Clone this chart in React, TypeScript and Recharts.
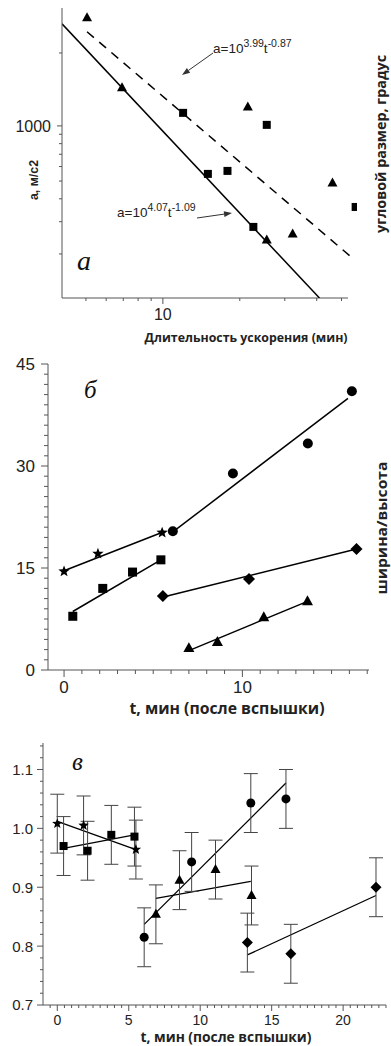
import React from "react";
import { ComposedChart, Scatter, Line, XAxis, YAxis, ErrorBar, ReferenceLine } from "recharts";

// ---- panel a: acceleration vs duration, log-log ----
const TRI_A = [
  { x: 5.05, y: 3890 }, { x: 6.92, y: 1614 }, { x: 21.5, y: 1270 },
  { x: 25.5, y: 238 }, { x: 32.2, y: 257 }, { x: 46.1, y: 488 },
];
const SQ_A = [
  { x: 12.0, y: 1178 }, { x: 15.0, y: 547 }, { x: 17.9, y: 568 },
  { x: 22.6, y: 281 }, { x: 25.5, y: 1013 }, { x: 56.8, y: 361 },
];
const FIT_A_DASH = [{ x: 5.05, y: 3266 }, { x: 54.7, y: 192 }];
const FIT_A_SOLID = [{ x: 4.03, y: 3606 }, { x: 41.0, y: 115 }];
const A_X_TICKS = [5, 6, 7, 8, 9, 10, 20, 30, 40, 50];
const A_X_MAJOR = [10];
const A_Y_TICKS = [200, 300, 400, 500, 600, 700, 800, 900, 1000, 2500];
const A_Y_MAJOR = [1000];

// ---- panel б: width/height vs time ----
const STAR_B = [{ x: 0.0, y: 14.5 }, { x: 1.9, y: 17.1 }, { x: 5.5, y: 20.2 }];
const SQ_B = [{ x: 0.49, y: 7.9 }, { x: 2.17, y: 12.0 }, { x: 3.84, y: 14.4 }, { x: 5.43, y: 16.2 }];
const CIRC_B = [{ x: 6.1, y: 20.4 }, { x: 9.47, y: 28.9 }, { x: 13.67, y: 33.3 }, { x: 16.14, y: 41.0 }];
const DIAM_B = [{ x: 5.54, y: 10.9 }, { x: 10.37, y: 13.4 }, { x: 16.4, y: 17.8 }];
const TRI_B = [{ x: 7.0, y: 3.2 }, { x: 8.6, y: 4.1 }, { x: 11.2, y: 7.75 }, { x: 13.65, y: 10.1 }];
const FIT_STAR_B = [{ x: 0, y: 14.6 }, { x: 5.52, y: 20.25 }];
const FIT_SQ_B = [{ x: 0.49, y: 8.6 }, { x: 5.43, y: 16.2 }];
const FIT_CIRC_B = [{ x: 6.1, y: 20.3 }, { x: 15.92, y: 39.95 }];
const FIT_DIAM_B = [{ x: 5.67, y: 10.8 }, { x: 16.4, y: 17.8 }];
const FIT_TRI_B = [{ x: 7.0, y: 2.85 }, { x: 13.65, y: 10.1 }];
const B_X_MAJOR = [0, 10];
const B_Y_MAJOR = [0, 15, 30, 45];

// ---- panel в: ratio with error bars ----
const STAR_C = [{ x: 0, y: 1.008, e: 0.05 }, { x: 1.84, y: 1.005, e: 0.05 }, { x: 5.5, y: 0.964, e: 0.05 }];
const SQ_C = [
  { x: 0.44, y: 0.97, e: 0.05 }, { x: 2.12, y: 0.962, e: 0.05 },
  { x: 3.78, y: 0.989, e: 0.05 }, { x: 5.4, y: 0.986, e: 0.05 },
];
const CIRC_C = [
  { x: 6.08, y: 0.815, e: 0.05 }, { x: 9.4, y: 0.943, e: 0.05 },
  { x: 13.54, y: 1.043, e: 0.05 }, { x: 16.0, y: 1.05, e: 0.05 },
];
const TRI_C = [
  { x: 6.9, y: 0.854, e: 0.05 }, { x: 8.55, y: 0.912, e: 0.05 },
  { x: 11.07, y: 0.93, e: 0.05 }, { x: 13.59, y: 0.886, e: 0.05 },
];
const DIAM_C = [{ x: 13.3, y: 0.806, e: 0.05 }, { x: 16.34, y: 0.787, e: 0.05 }, { x: 22.3, y: 0.9, e: 0.05 }];
const FIT_STAR_C = [{ x: 0, y: 1.012 }, { x: 5.5, y: 0.964 }];
const FIT_SQ_C = [{ x: 0.44, y: 0.966 }, { x: 5.4, y: 0.989 }];
const FIT_CIRC_C = [{ x: 6.08, y: 0.837 }, { x: 16.0, y: 1.077 }];
const FIT_TRI_C = [{ x: 6.9, y: 0.881 }, { x: 13.54, y: 0.91 }];
const FIT_DIAM_C = [{ x: 13.3, y: 0.785 }, { x: 22.3, y: 0.886 }];
const C_X_MAJOR = [0, 5, 10, 15, 20];
const C_Y_MAJOR = [0.7, 0.8, 0.9, 1.0, 1.1];

// minor tick positions
function steps(from: number, to: number, step: number) {
  const out: number[] = [];
  const n = Math.round((to - from) / step);
  for (let i = 0; i <= n; i++) out.push(Math.round((from + i * step) * 1000) / 1000);
  return out;
}
const B_X_TICKS = steps(0, 17, 1);
const B_Y_TICKS = steps(0, 45, 1.5);
const C_X_TICKS = steps(-0.5, 23, 0.5);
const C_Y_TICKS = steps(0.7, 1.14, 0.02);

const AXIS = "#555";
const NUM_FONT = "'Liberation Sans', Arial, sans-serif";
const LBL_FONT = "'Open Sans', 'Noto Sans', sans-serif";
const SERIF = "'Liberation Serif', 'Times New Roman', serif";

const isMajor = (list: number[], v: number) => list.some((m) => Math.abs(m - v) < 1e-6);

function bottomTick(majors: number[], big: number, small: number, fs: number, dy: number, fmt: (v: number) => string) {
  return (p: any) => {
    const v = p.payload.value;
    const major = isMajor(majors, v);
    return (
      <g>
        <line x1={p.x} x2={p.x} y1={p.y} y2={p.y + (major ? big : small)} stroke={AXIS} />
        {major && (
          <text x={p.x} y={p.y + dy} textAnchor="middle" fontSize={fs} fill="#222" fontFamily={NUM_FONT}>
            {fmt(v)}
          </text>
        )}
      </g>
    );
  };
}

function leftTick(majors: number[], big: number, small: number, fs: number, gap: number, fmt: (v: number) => string) {
  return (p: any) => {
    const v = p.payload.value;
    const major = isMajor(majors, v);
    return (
      <g>
        <line x1={p.x} x2={p.x - (major ? big : small)} y1={p.y} y2={p.y} stroke={AXIS} />
        {major && (
          <text x={p.x - gap} y={p.y} dy="0.36em" textAnchor="end" fontSize={fs} fill="#222" fontFamily={NUM_FONT}>
            {fmt(v)}
          </text>
        )}
      </g>
    );
  };
}

function makeShape(kind: string, s: number) {
  return (p: any) => {
    const { cx, cy } = p;
    if (cx == null || cy == null) return <g />;
    const h = s / 2;
    if (kind === "sq") return <rect x={cx - h} y={cy - h} width={s} height={s} fill="#000" />;
    if (kind === "circ") return <circle cx={cx} cy={cy} r={h} fill="#000" />;
    if (kind === "tri")
      return <polygon points={`${cx},${cy - s * 0.55} ${cx + h},${cy + s * 0.35} ${cx - h},${cy + s * 0.35}`} fill="#000" />;
    if (kind === "diam")
      return <polygon points={`${cx},${cy - h} ${cx + h},${cy} ${cx},${cy + h} ${cx - h},${cy}`} fill="#000" />;
    const pts: string[] = [];
    for (let i = 0; i < 10; i++) {
      const r = i % 2 === 0 ? h : h * 0.42;
      const a = -Math.PI / 2 + (i * Math.PI) / 5;
      pts.push(`${cx + r * Math.cos(a)},${cy + r * Math.sin(a)}`);
    }
    return <polygon points={pts.join(" ")} fill="#000" />;
  };
}

function Arrow({ x1, y1, x2, y2 }: { x1: number; y1: number; x2: number; y2: number }) {
  const len = Math.hypot(x2 - x1, y2 - y1);
  const dx = (x2 - x1) / len;
  const dy = (y2 - y1) / len;
  const bx = x2 - dx * 8;
  const by = y2 - dy * 8;
  return (
    <g>
      <line x1={x1} y1={y1} x2={bx} y2={by} stroke="#333" strokeWidth={1} />
      <polygon points={`${x2},${y2} ${bx - dy * 2.8},${by + dx * 2.8} ${bx + dy * 2.8},${by - dx * 2.8}`} fill="#333" />
    </g>
  );
}

const fitLine = (data: any[], dash?: string, w = 1.5) => (
  <Line
    data={data}
    dataKey="y"
    stroke="#000"
    strokeWidth={w}
    strokeDasharray={dash}
    dot={false}
    activeDot={false}
    isAnimationActive={false}
  />
);

export default function App() {
  return (
    <div style={{ position: "absolute", left: 0, top: 0, width: 391, height: 1046, background: "#fff" }}>
      {/* panel a */}
      <div style={{ position: "absolute", left: 0, top: 0 }}>
        <ComposedChart width={391} height={345} margin={{ top: 8, right: 34, bottom: 0, left: 0 }}>
          <XAxis
            dataKey="x" type="number" scale="log" domain={[4.03, 57.5]} allowDataOverflow
            ticks={A_X_TICKS} interval={0} tickSize={0} tickMargin={0} height={47}
            axisLine={false} tickLine={false}
            tick={bottomTick(A_X_MAJOR, 6, 3, 16, 22, (v) => String(v))}
          />
          <YAxis
            dataKey="y" type="number" scale="log" domain={[115, 4400]} allowDataOverflow
            ticks={A_Y_TICKS} interval={0} tickSize={0} tickMargin={0} width={62}
            axisLine={{ stroke: AXIS }} tickLine={false}
            tick={leftTick(A_Y_MAJOR, 5, 3, 16, 11, (v) => String(v))}
          />
          <ReferenceLine segment={[{ x: 4.03, y: 115 }, { x: 53, y: 115 }]} stroke={AXIS} ifOverflow="visible" />
          {fitLine(FIT_A_SOLID)}
          {fitLine(FIT_A_DASH, "9 7")}
          <Scatter data={TRI_A} shape={makeShape("tri", 10)} isAnimationActive={false} />
          <Scatter data={SQ_A} shape={makeShape("sq", 8)} isAnimationActive={false} />
        </ComposedChart>
      </div>

      {/* panel б */}
      <div style={{ position: "absolute", left: 0, top: 345 }}>
        <ComposedChart width={391} height={375} margin={{ top: 19, right: 22, bottom: 0, left: 0 }}>
          <XAxis
            dataKey="x" type="number" domain={[-0.9, 17.1]} allowDataOverflow
            ticks={B_X_TICKS} interval={0} tickSize={0} tickMargin={0} height={50}
            axisLine={{ stroke: AXIS }} tickLine={false}
            tick={bottomTick(B_X_MAJOR, 7, 4, 17, 23, (v) => String(v))}
          />
          <YAxis
            dataKey="y" type="number" domain={[0, 45]} allowDataOverflow
            ticks={B_Y_TICKS} interval={0} tickSize={0} tickMargin={0} width={48}
            axisLine={{ stroke: AXIS }} tickLine={false}
            tick={leftTick(B_Y_MAJOR, 7, 4, 17, 13, (v) => String(v))}
          />
          {fitLine(FIT_STAR_B)}
          {fitLine(FIT_SQ_B)}
          {fitLine(FIT_CIRC_B)}
          {fitLine(FIT_DIAM_B)}
          {fitLine(FIT_TRI_B)}
          <Scatter data={STAR_B} shape={makeShape("star", 12)} isAnimationActive={false} />
          <Scatter data={SQ_B} shape={makeShape("sq", 9)} isAnimationActive={false} />
          <Scatter data={CIRC_B} shape={makeShape("circ", 10)} isAnimationActive={false} />
          <Scatter data={DIAM_B} shape={makeShape("diam", 12)} isAnimationActive={false} />
          <Scatter data={TRI_B} shape={makeShape("tri", 11)} isAnimationActive={false} />
        </ComposedChart>
      </div>

      {/* panel в */}
      <div style={{ position: "absolute", left: 0, top: 720 }}>
        <ComposedChart width={391} height={326} margin={{ top: 23, right: 5, bottom: 0, left: 0 }}>
          <XAxis
            dataKey="x" type="number" domain={[-1, 23]} allowDataOverflow
            ticks={C_X_TICKS} interval={0} tickSize={0} tickMargin={0} height={41}
            axisLine={{ stroke: AXIS }} tickLine={false}
            tick={bottomTick(C_X_MAJOR, 6, 3, 14, 20, (v) => String(v))}
          />
          <YAxis
            dataKey="y" type="number" domain={[0.7, 1.145]} allowDataOverflow
            ticks={C_Y_TICKS} interval={0} tickSize={0} tickMargin={0} width={43}
            axisLine={{ stroke: AXIS }} tickLine={false}
            tick={leftTick(C_Y_MAJOR, 6, 3, 15, 10, (v) => v.toFixed(1))}
          />
          {fitLine(FIT_STAR_C, undefined, 1.3)}
          {fitLine(FIT_SQ_C, undefined, 1.3)}
          {fitLine(FIT_CIRC_C, undefined, 1.3)}
          {fitLine(FIT_TRI_C, undefined, 1.3)}
          {fitLine(FIT_DIAM_C, undefined, 1.3)}
          <Scatter data={STAR_C} shape={makeShape("star", 11)} isAnimationActive={false}>
            <ErrorBar dataKey="e" direction="y" width={7} stroke="#444" strokeWidth={1} />
          </Scatter>
          <Scatter data={SQ_C} shape={makeShape("sq", 8)} isAnimationActive={false}>
            <ErrorBar dataKey="e" direction="y" width={7} stroke="#444" strokeWidth={1} />
          </Scatter>
          <Scatter data={CIRC_C} shape={makeShape("circ", 9)} isAnimationActive={false}>
            <ErrorBar dataKey="e" direction="y" width={7} stroke="#444" strokeWidth={1} />
          </Scatter>
          <Scatter data={TRI_C} shape={makeShape("tri", 10)} isAnimationActive={false}>
            <ErrorBar dataKey="e" direction="y" width={7} stroke="#444" strokeWidth={1} />
          </Scatter>
          <Scatter data={DIAM_C} shape={makeShape("diam", 11)} isAnimationActive={false}>
            <ErrorBar dataKey="e" direction="y" width={7} stroke="#444" strokeWidth={1} />
          </Scatter>
        </ComposedChart>
      </div>

      {/* titles and annotations */}
      <svg width={391} height={1046} style={{ position: "absolute", left: 0, top: 0, pointerEvents: "none" }}>
        <text x={77} y={270} fontSize={28} fontStyle="italic" fontFamily={SERIF} fill="#111">a</text>
        <text x={84} y={398} fontSize={25} fontStyle="italic" fontFamily={SERIF} fill="#111">б</text>
        <text x={72} y={770} fontSize={25} fontStyle="italic" fontFamily={SERIF} fill="#111">в</text>

        <text x={213} y={53} fontSize={13.5} fontFamily={NUM_FONT} fill="#222">
          a=10<tspan dy={-6} fontSize={10.5}>3.99</tspan>
          <tspan dy={6} fontSize={13.5}>t</tspan>
          <tspan dy={-6} fontSize={10.5}>-0.87</tspan>
        </text>
        <text x={117} y={217} fontSize={13.5} fontFamily={NUM_FONT} fill="#222">
          a=10<tspan dy={-6} fontSize={10.5}>4.07</tspan>
          <tspan dy={6} fontSize={13.5}>t</tspan>
          <tspan dy={-6} fontSize={10.5}>-1.09</tspan>
        </text>
        <Arrow x1={213} y1={53} x2={182} y2={75} />
        <Arrow x1={197} y1={218} x2={232} y2={213} />

        <text transform="translate(38,180) rotate(-90)" textAnchor="middle" fontSize={12} fontWeight="bold"
          fontFamily={NUM_FONT} fill="#222" textLength={40} lengthAdjust="spacingAndGlyphs">a, м/c2</text>
        <text x={246} y={342} textAnchor="middle" fontSize={13} fontWeight="bold" fontFamily={LBL_FONT}
          fill="#222" textLength={203} lengthAdjust="spacingAndGlyphs">Длительность ускорения (мин)</text>
        <text transform="translate(386,144) rotate(-90)" textAnchor="middle" fontSize={14} fontWeight="bold"
          fontFamily={LBL_FONT} fill="#222" textLength={178} lengthAdjust="spacingAndGlyphs">угловой размер, градус</text>

        <text transform="translate(387,528) rotate(-90)" textAnchor="middle" fontSize={15} fontWeight="bold"
          fontFamily={LBL_FONT} fill="#222" textLength={133} lengthAdjust="spacingAndGlyphs">ширина/высота</text>
        <text x={227} y={714} textAnchor="middle" fontSize={15.5} fontWeight="bold" fontFamily={LBL_FONT}
          fill="#222" textLength={195} lengthAdjust="spacingAndGlyphs">t, мин (после вспышки)</text>

        <text x={226} y={1042} textAnchor="middle" fontSize={13.5} fontWeight="bold" fontFamily={LBL_FONT}
          fill="#222" textLength={171} lengthAdjust="spacingAndGlyphs">t, мин (после вспышки)</text>
      </svg>
    </div>
  );
}
